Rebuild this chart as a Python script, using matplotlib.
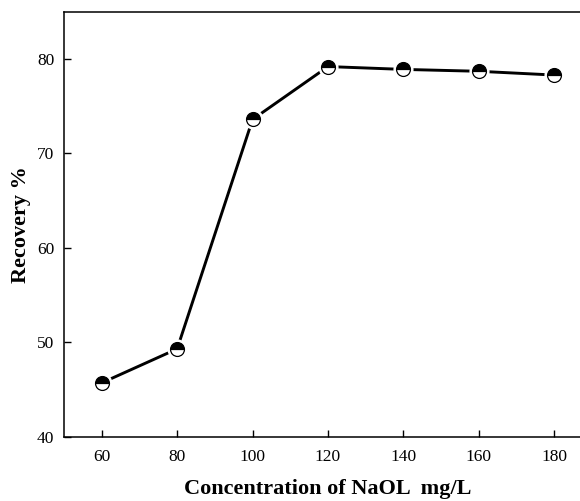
import matplotlib
matplotlib.use("Agg")
import matplotlib.pyplot as plt

# NaOL dosage (mg/L) vs recovery (%)
concentration = [60, 80, 100, 120, 140, 160, 180]
recovery = [45.7, 49.3, 73.6, 79.2, 78.9, 78.7, 78.3]

x_ticks = [60, 80, 100, 120, 140, 160, 180]
y_ticks = [40, 50, 60, 70, 80]

plt.rcParams['font.family'] = ['Liberation Serif', 'DejaVu Serif']

fig = plt.figure(figsize=(5.8, 5.01), dpi=100)
ax = fig.add_axes([64 / 580, 64.3 / 501, 528 / 580, 424.9 / 501])

ax.plot(concentration, recovery, color='black', linewidth=2.1, zorder=2)
# white halo so the line stops short of each marker
ax.plot(concentration, recovery, linestyle='none', marker='o',
        markersize=13.5, markerfacecolor='white', markeredgecolor='white',
        zorder=3)
ax.plot(concentration, recovery, linestyle='none', marker='o',
        markersize=10, fillstyle='top', markerfacecolor='black',
        markerfacecoloralt='white', markeredgecolor='black',
        markeredgewidth=0.9, zorder=4)

ax.set_xlim(50, 190)
ax.set_ylim(40, 85)
ax.set_xticks(x_ticks)
ax.set_yticks(y_ticks)
ax.tick_params(direction='in', length=5, width=1, labelsize=12.5)
ax.tick_params(axis='x', pad=9)
ax.tick_params(axis='y', pad=7)

for side in ['left', 'bottom', 'top']:
    ax.spines[side].set_linewidth(1.1)
ax.spines['right'].set_visible(False)

ax.set_xlabel('Concentration of NaOL  mg/L', fontsize=16,
              fontweight='bold', labelpad=10)
ax.set_ylabel('Recovery %', fontsize=16, fontweight='bold', labelpad=4)

fig.savefig('out.png', dpi=100)
